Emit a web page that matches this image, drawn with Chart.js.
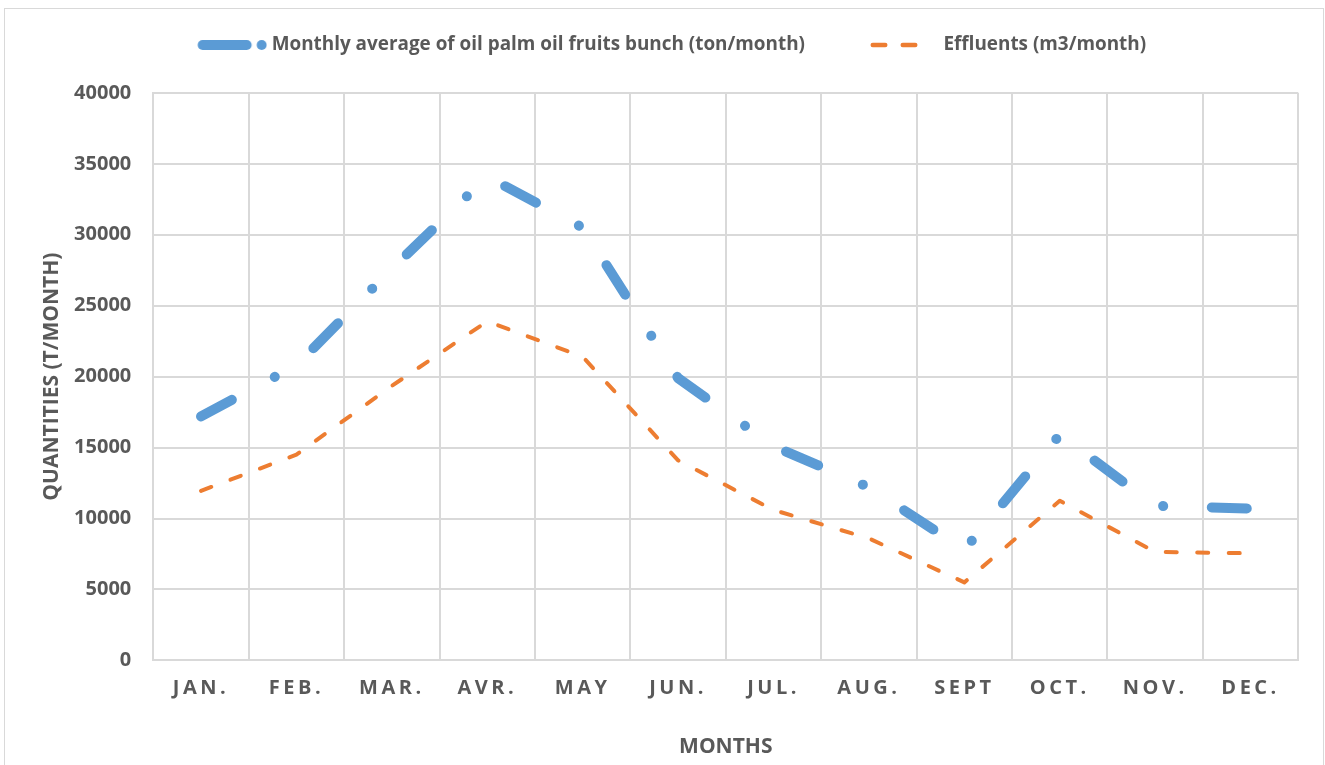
<!DOCTYPE html>
<html>
<head>
<meta charset="utf-8">
<title>Oil palm fruit bunches and effluents</title>
<script src="https://cdn.jsdelivr.net/npm/chart.js@4.4.0/dist/chart.umd.min.js"></script>
<style>
    html, body { margin: 0; padding: 0; background: #fff; }
    #wrap { position: relative; width: 1325px; height: 765px; overflow: hidden; }
    #frame { position: absolute; left: 4px; top: 8px; width: 1318px; height: 800px; border: 1px solid #d9d9d9; }
    #chart { position: absolute; left: 0; top: 0; }
</style>
</head>
<body>
<div id="wrap">
    <div id="frame"></div>
    <canvas id="chart" width="1325" height="765"></canvas>
</div>
<script>
var months = ['JAN.', 'FEB.', 'MAR.', 'AVR.', 'MAY', 'JUN.', 'JUL.', 'AUG.', 'SEPT', 'OCT.', 'NOV.', 'DEC.'];
var fruitBunch = [17200, 20800, 27600, 34100, 30500, 19900, 15100, 12200, 7800, 15900, 10900, 10700];
var effluents = [11950, 14500, 19350, 23900, 21400, 14100, 10600, 8600, 5500, 11250, 7650, 7550];
var yTicks = [0, 5000, 10000, 15000, 20000, 25000, 30000, 35000, 40000];
var seriesNames = ['Monthly average of oil palm oil fruits bunch (ton/month)', 'Effluents (m3/month)'];

var textColor = '#595959';
var gridColor = '#d9d9d9';
var blue = '#5b9bd5';
var orange = '#ed7d31';

Chart.defaults.font.family = "'Open Sans', sans-serif";
Chart.defaults.color = textColor;

// category axis whose labels are drawn letter-spaced
var xLetterSpacing = '3.5px';
class SpacedCategoryScale extends Chart.CategoryScale {
    drawLabels(chartArea) {
        var ctx = this.ctx;
        var prev = ctx.letterSpacing;
        ctx.letterSpacing = xLetterSpacing;
        super.drawLabels(chartArea);
        ctx.letterSpacing = prev;
    }
}
SpacedCategoryScale.id = 'spacedCategory';
SpacedCategoryScale.defaults = Chart.CategoryScale.defaults;
Chart.register(SpacedCategoryScale);

// legend samples (line pattern swatches)
function makeSample(draw) {
    var c = document.createElement('canvas');
    c.width = 120;
    c.height = 16;
    var ctx = c.getContext('2d');
    ctx.lineCap = 'round';
    draw(ctx);
    return c;
}

var blueSample = makeSample(function (ctx) {
    ctx.strokeStyle = blue;
    ctx.lineWidth = 10;
    ctx.beginPath();
    ctx.moveTo(55.5, 8);
    ctx.lineTo(99.5, 8);
    ctx.stroke();
    ctx.fillStyle = blue;
    ctx.beginPath();
    ctx.arc(114.5, 8, 5, 0, Math.PI * 2);
    ctx.fill();
});

var orangeSample = makeSample(function (ctx) {
    ctx.strokeStyle = orange;
    ctx.lineWidth = 4.5;
    ctx.beginPath();
    ctx.moveTo(53.75, 8);
    ctx.lineTo(66.25, 8);
    ctx.moveTo(83.75, 8);
    ctx.lineTo(96.25, 8);
    ctx.stroke();
});

var samples = [blueSample, orangeSample];

// extra room between the legend row and the plot
var legendGap = {
    id: 'legendGap',
    afterInit: function (chart) {
        var fit = chart.legend.fit;
        chart.legend.fit = function () {
            fit.call(this);
            this.height += 28.5;
        };
    }
};

new Chart(document.getElementById('chart').getContext('2d'), {
    type: 'line',
    data: {
        labels: months,
        datasets: [
            {
                label: seriesNames[0],
                data: fruitBunch,
                borderColor: blue,
                backgroundColor: blue,
                borderWidth: 10,
                borderDash: [35, 48.6, 0.1, 48.6],
                borderCapStyle: 'round',
                borderJoinStyle: 'round',
                pointRadius: 0,
                tension: 0,
                fill: false
            },
            {
                label: seriesNames[1],
                data: effluents,
                borderColor: orange,
                backgroundColor: orange,
                borderWidth: 4,
                borderDash: [11, 20.5],
                borderCapStyle: 'round',
                borderJoinStyle: 'round',
                pointRadius: 0,
                tension: 0,
                fill: false
            }
        ]
    },
    plugins: [legendGap],
    options: {
        responsive: false,
        animation: false,
        layout: {
            padding: { top: 16.5, left: 0, right: 26.7, bottom: 0 }
        },
        plugins: {
            tooltip: { enabled: false },
            legend: {
                position: 'top',
                labels: {
                    usePointStyle: true,
                    pointStyleWidth: 110,
                    padding: 19,
                    color: textColor,
                    font: { size: 18.9, weight: 'bold' },
                    generateLabels: function (chart) {
                        return chart.data.datasets.map(function (ds, i) {
                            return {
                                text: ds.label,
                                pointStyle: samples[i],
                                fontColor: textColor,
                                datasetIndex: i,
                                hidden: false,
                                lineWidth: 0,
                                strokeStyle: 'rgba(0,0,0,0)',
                                fillStyle: 'rgba(0,0,0,0)'
                            };
                        });
                    }
                }
            }
        },
        scales: {
            x: {
                type: 'spacedCategory',
                offset: true,
                grid: { offset: true, color: gridColor, lineWidth: 2, drawTicks: false },
                border: { color: gridColor, width: 2 },
                ticks: {
                    autoSkip: false,
                    maxRotation: 0,
                    padding: 16,
                    color: textColor,
                    font: { size: 20, weight: 'bold' }
                },
                title: {
                    display: true,
                    text: 'MONTHS',
                    color: textColor,
                    font: { size: 21, weight: 'bold' },
                    padding: { top: 0, bottom: 5.4 }
                },
                afterFit: function (scale) {
                    scale.height = 104.6;
                }
            },
            y: {
                min: 0,
                max: 40000,
                grid: { color: gridColor, lineWidth: 2, drawTicks: false },
                border: { color: gridColor, width: 2 },
                afterBuildTicks: function (scale) {
                    scale.ticks = yTicks.map(function (v) { return { value: v }; });
                },
                ticks: {
                    padding: 22,
                    color: textColor,
                    font: { size: 20, weight: 'bold' },
                    callback: function (value) { return String(value); }
                },
                title: {
                    display: true,
                    text: 'QUANTITIES (T/MONTH)',
                    color: textColor,
                    font: { size: 21, weight: 'bold' },
                    padding: { top: 39.4, bottom: 0 }
                },
                afterFit: function (scale) {
                    scale.width = 153.3;
                }
            }
        }
    }
});
</script>
</body>
</html>
